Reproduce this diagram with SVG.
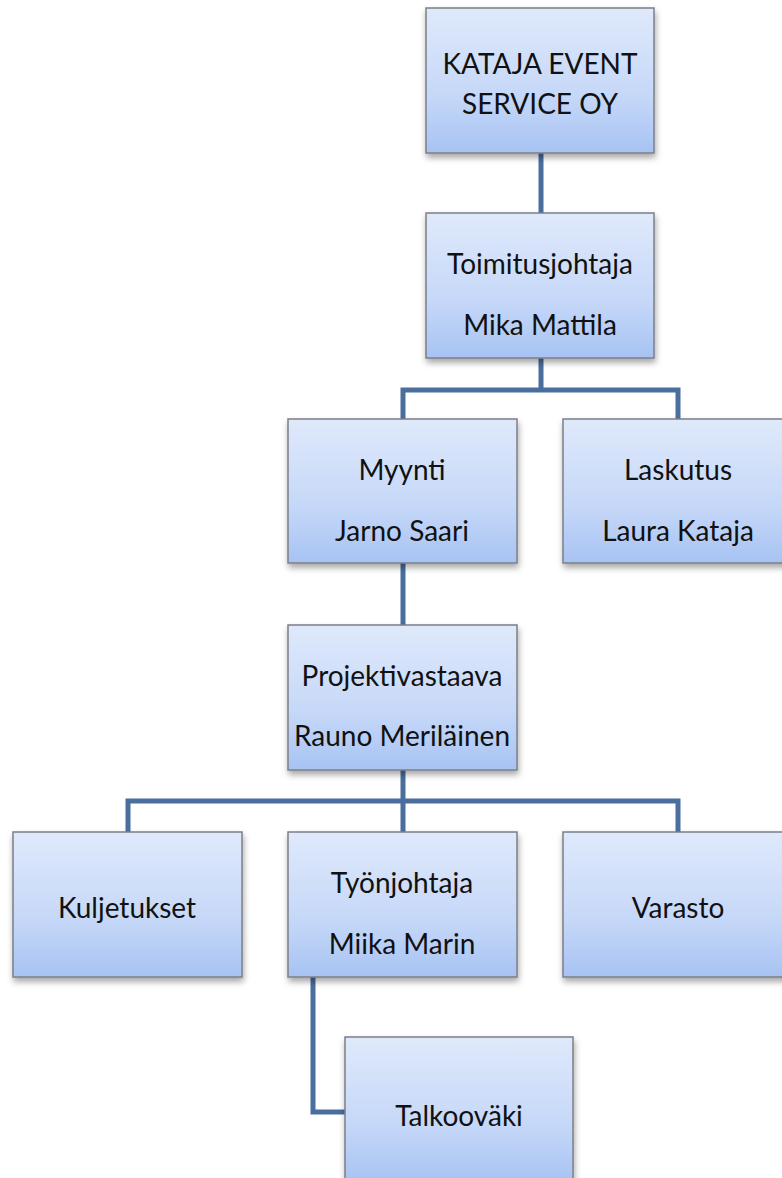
<svg xmlns="http://www.w3.org/2000/svg" width="782" height="1178" viewBox="0 0 782 1178">
<defs>
<linearGradient id="g" x1="0" y1="0" x2="0" y2="1">
<stop offset="0" stop-color="#dfe9fb"/>
<stop offset="0.6" stop-color="#c6d8f8"/>
<stop offset="1" stop-color="#a7c3f3"/>
</linearGradient>
<filter id="sh" x="-10%" y="-10%" width="125%" height="130%">
<feDropShadow dx="1" dy="4" stdDeviation="3" flood-color="#000" flood-opacity="0.35"/>
</filter>
</defs>
<style>
.box{fill:url(#g);stroke:#7c7f86;stroke-width:1.5;filter:url(#sh)}
.t{font-family:"Lato","Liberation Sans",sans-serif;font-size:28px;fill:#111;text-anchor:middle}
.c{fill:none;stroke:#4a6e9e;stroke-width:5}
</style>
<rect width="782" height="1178" fill="#fff"/>
<g id="connectors">
<path class="c" d="M541 153V213"/>
<path class="c" d="M541 358V390H403V419M541 390H678V419"/>
<path class="c" d="M403 563V625"/>
<path class="c" d="M403 770V832M128 832V801H678V832"/>
<path class="c" d="M313 977V1112H346"/>
</g>
<g id="n-kataja"><rect class="box" x="426" y="8" width="228" height="145"/><text class="t" x="540" y="74">KATAJA EVENT</text><text class="t" x="540" y="114">SERVICE OY</text></g>
<g id="n-toimitusjohtaja"><rect class="box" x="426" y="213" width="228" height="145"/><text class="t" x="540" y="274">Toimitusjohtaja</text><text class="t" x="540" y="335">Mika Mattila</text></g>
<g id="n-myynti"><rect class="box" x="288" y="419" width="229" height="144"/><text class="t" x="402" y="480">Myynti</text><text class="t" x="402" y="541">Jarno Saari</text></g>
<g id="n-laskutus"><rect class="box" x="563" y="419" width="230" height="144"/><text class="t" x="678" y="480">Laskutus</text><text class="t" x="678" y="541">Laura Kataja</text></g>
<g id="n-projektivastaava"><rect class="box" x="288" y="625" width="229" height="145"/><text class="t" x="402" y="686">Projektivastaava</text><text class="t" x="402" y="746">Rauno Meriläinen</text></g>
<g id="n-kuljetukset"><rect class="box" x="13" y="832" width="229" height="145"/><text class="t" x="127" y="918">Kuljetukset</text></g>
<g id="n-tyonjohtaja"><rect class="box" x="288" y="832" width="229" height="145"/><text class="t" x="402" y="893">Työnjohtaja</text><text class="t" x="402" y="954">Miika Marin</text></g>
<g id="n-varasto"><rect class="box" x="563" y="832" width="230" height="145"/><text class="t" x="678" y="918">Varasto</text></g>
<g id="n-talkoovaki"><rect class="box" x="345" y="1037" width="228" height="145"/><text class="t" x="459" y="1126">Talkooväki</text></g>
</svg>
